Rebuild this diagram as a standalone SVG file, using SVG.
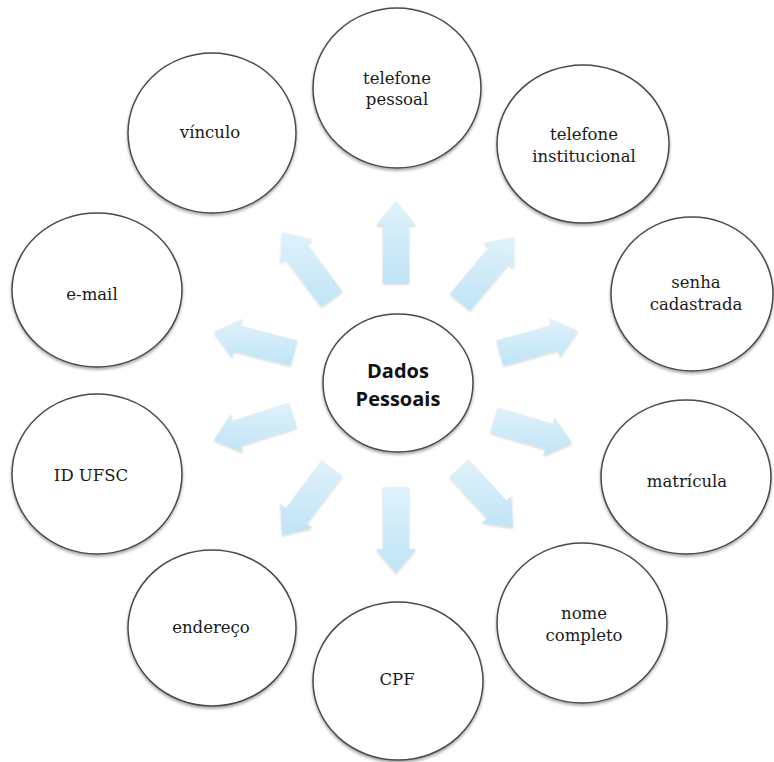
<svg xmlns="http://www.w3.org/2000/svg" width="774" height="762" viewBox="0 0 774 762">
<defs>
<linearGradient id="ag" x1="0" y1="0" x2="0" y2="1">
<stop offset="0" stop-color="#e0f2fb"/>
<stop offset="1" stop-color="#bfe4f6"/>
</linearGradient>
<filter id="cs" x="-20%" y="-20%" width="140%" height="140%">
<feDropShadow dx="0" dy="2" stdDeviation="1.8" flood-color="#000" flood-opacity="0.35"/>
</filter>
<filter id="as" x="-20%" y="-20%" width="140%" height="140%">
<feDropShadow dx="0" dy="1.5" stdDeviation="1.2" flood-color="#000" flood-opacity="0.18"/>
</filter>
</defs>
<style>
.c{fill:#fff;stroke:#4a4a4a;stroke-width:1.5;filter:url(#cs)}
.a{fill:url(#ag);stroke:none;filter:url(#as)}
.t{font-family:"DejaVu Serif","Liberation Serif",serif;font-size:16.5px;fill:#1a1a1a;text-anchor:middle}
.m{font-family:"Open Sans","Liberation Sans",sans-serif;font-size:20px;font-weight:700;fill:#111;text-anchor:middle}
</style>
<rect width="774" height="762" fill="#fff"/>
<g id="connectors">
<polygon class="a" points="383,283 383,225 376,225 396,201 416,225 409,225 409,283"/>
<polygon class="a" points="450,293.7 488.7,247.2 483.3,242.7 514,237 514,268.3 508.7,263.8 470,310.3"/>
<polygon class="a" points="496.5,340.5 551.4,325 549.5,318.2 578,331 560.3,356.8 558.4,350 503.5,365.5"/>
<polygon class="a" points="497.7,407.5 552.6,423.8 554.6,417 572,443 543.3,455.4 545.3,448.7 490.3,432.5"/>
<polygon class="a" points="468.6,459.2 506.4,500.5 511.6,495.8 513,527 482.1,522.8 487.2,518.1 449.4,476.8"/>
<polygon class="a" points="409,487 409,549 416,549 396,573 376,549 383,549 383,487"/>
<polygon class="a" points="342.4,475.8 306.8,523.5 312.4,527.7 282,535 280.3,503.8 286,508 321.6,460.2"/>
<polygon class="a" points="296.9,427.4 240.8,445.2 242.9,451.9 214,440 230.8,413.7 232.9,420.4 289.1,402.6"/>
<polygon class="a" points="290.7,365.6 233.9,350.7 232.2,357.4 214,332 242.3,318.8 240.5,325.5 297.3,340.4"/>
<polygon class="a" points="321.6,306.8 286,259 280.3,263.2 282,232 312.4,239.3 306.8,243.5 342.4,291.2"/>
</g>
<g id="center">
<ellipse class="c" cx="398" cy="383" rx="75" ry="69"/>
<text class="m" x="398" y="378">Dados</text>
<text class="m" x="398" y="406">Pessoais</text>
</g>
<g id="telefone-pessoal">
<ellipse class="c" cx="397" cy="88" rx="84" ry="80"/>
<text class="t" x="397" y="84">telefone</text>
<text class="t" x="397" y="105">pessoal</text>
</g>
<g id="telefone-institucional">
<ellipse class="c" cx="583" cy="144" rx="86" ry="79"/>
<text class="t" x="584" y="140">telefone</text>
<text class="t" x="584" y="162">institucional</text>
</g>
<g id="senha-cadastrada">
<ellipse class="c" cx="692" cy="294" rx="81" ry="77"/>
<text class="t" x="696" y="288">senha</text>
<text class="t" x="696" y="310">cadastrada</text>
</g>
<g id="matricula">
<ellipse class="c" cx="686" cy="477" rx="85" ry="77"/>
<text class="t" x="687" y="487">matrícula</text>
</g>
<g id="nome-completo">
<ellipse class="c" cx="582" cy="623" rx="85" ry="80"/>
<text class="t" x="584" y="619">nome</text>
<text class="t" x="584" y="641">completo</text>
</g>
<g id="cpf">
<ellipse class="c" cx="398" cy="681" rx="85" ry="79"/>
<text class="t" x="397" y="685">CPF</text>
</g>
<g id="endereco">
<ellipse class="c" cx="212" cy="628" rx="84" ry="78"/>
<text class="t" x="211" y="633">endereço</text>
</g>
<g id="id-ufsc">
<ellipse class="c" cx="97" cy="474" rx="85" ry="80"/>
<text class="t" x="91" y="481">ID UFSC</text>
</g>
<g id="e-mail">
<ellipse class="c" cx="97" cy="290" rx="85" ry="77"/>
<text class="t" x="92" y="300">e-mail</text>
</g>
<g id="vinculo">
<ellipse class="c" cx="212" cy="133" rx="84" ry="80"/>
<text class="t" x="210" y="138">vínculo</text>
</g>
</svg>
